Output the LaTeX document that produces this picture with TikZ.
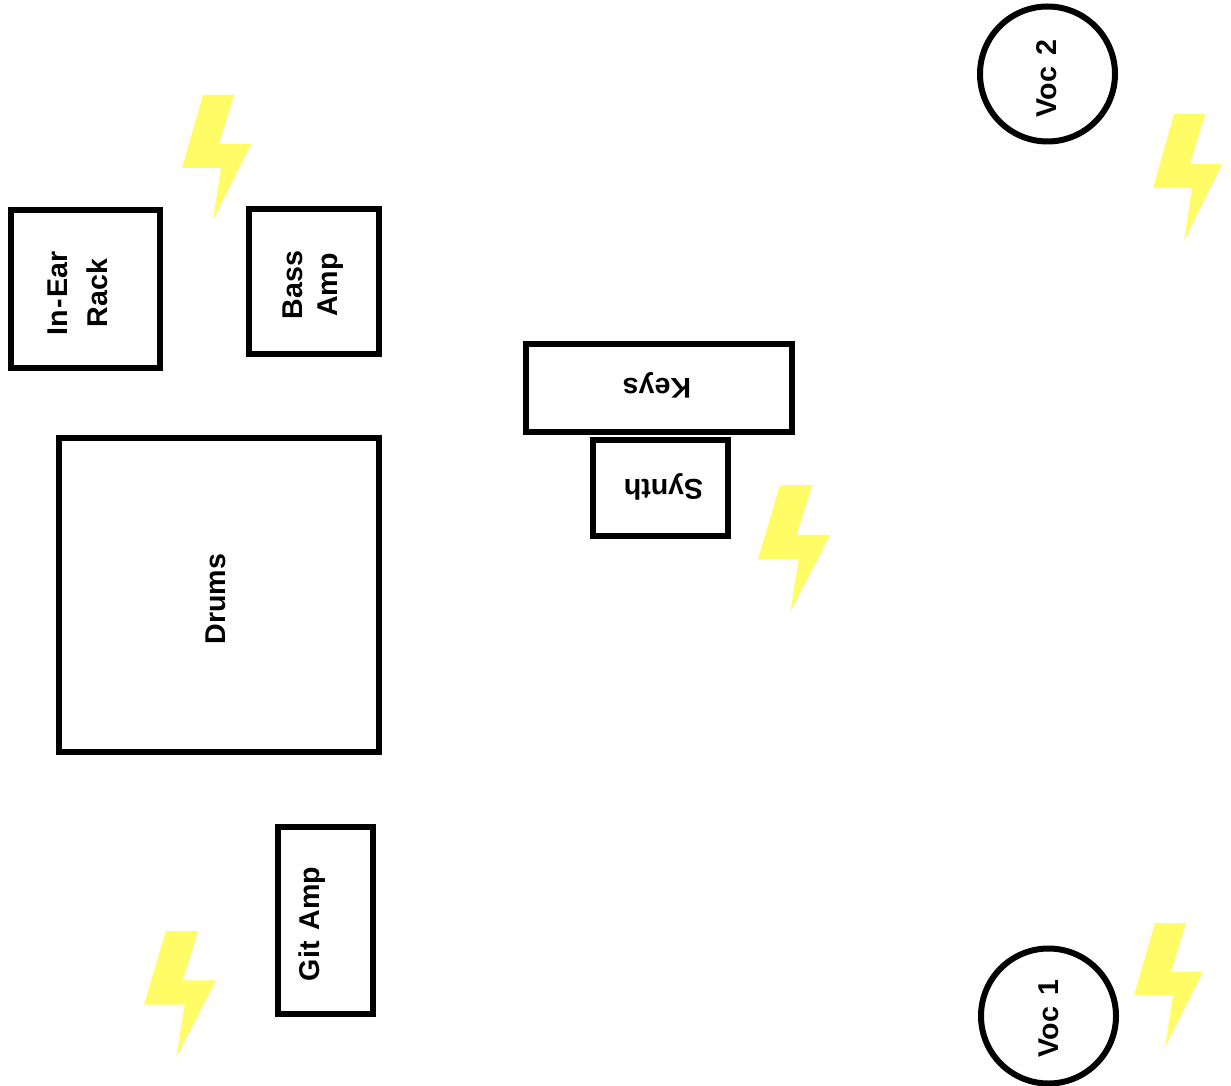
\documentclass[tikz,border=0pt]{standalone}
\usepackage{fontspec}
\setmainfont{Liberation Sans}
\usepackage{xcolor}
\definecolor{boltyellow}{HTML}{FFFC66}
\newcommand{\tagfont}{\fontsize{28.6}{35}\selectfont\bfseries\spaceskip=11pt\relax}
\begin{document}
\begin{tikzpicture}[
  x=1pt, y=-1pt,
  gear/.style={rectangle, draw=black, line width=6pt, inner sep=0pt},
  voc/.style={circle, draw=black, line width=6pt, inner sep=0pt, minimum size=135pt},
  tag/.style={inner sep=0pt, align=center, rotate=90, font=\tagfont},
  tagflip/.style={inner sep=0pt, align=center, rotate=180, font=\tagfont},
  bolt/.style={fill=boltyellow},
]
\useasboundingbox (0,0) rectangle (1231,1086);
% stage boxes, px coordinates
\node[gear, minimum width=149pt, minimum height=157pt] (inear) at (85.5,289) {};
\node[gear, minimum width=130pt, minimum height=145pt] (bassamp) at (314,281.5) {};
\node[gear, minimum width=320pt, minimum height=314pt] (drums) at (219,594.5) {};
\node[gear, minimum width=95pt, minimum height=187pt] (gitamp) at (325.5,920) {};
\node[gear, minimum width=266pt, minimum height=88pt] (keys) at (659,387.5) {};
\node[gear, minimum width=135pt, minimum height=96pt] (synth) at (660.5,487.5) {};
\node[voc] (voctwo) at (1047.5,74) {};
\node[voc] (vocone) at (1048.5,1016) {};
% labels
\node[tag, font=\fontsize{28.6}{40}\selectfont\bfseries] (inearlabel) at (78,293) {In\kern1.5pt-\kern1.5pt Ear\\Rack};
\node[tag] (basslabel) at (313,285) {Bass\\Amp};
\node[tag] (drumslabel) at (215.5,599) {Drums};
\node[tag] (gitlabel) at (312.5,924) {Git Amp};
\node[tagflip] (keyslabel) at (657,385.5) {Keys};
\node[tagflip] (synthlabel) at (663.5,486.5) {Synth};
\node[tag] (voctwolabel) at (1046.5,78.5) {Voc 2};
\node[tag] (voconelabel) at (1049,1018.5) {Voc 1};
% lightning bolts
\foreach \x/\y/\sx/\sy in {182/95/1/1, 1153/114/1/1.016, 758/485/1.043/1.016, 144/931/1.043/1.008, 1134/923/1/.992} {
  \fill[bolt, shift={(\x,\y)}, xscale=\sx, yscale=\sy] (21,0) -- (52,0) -- (37,49) -- (69,49) -- (31,125) -- (39,73) -- (0,73) -- cycle;
}
\end{tikzpicture}
\end{document}
